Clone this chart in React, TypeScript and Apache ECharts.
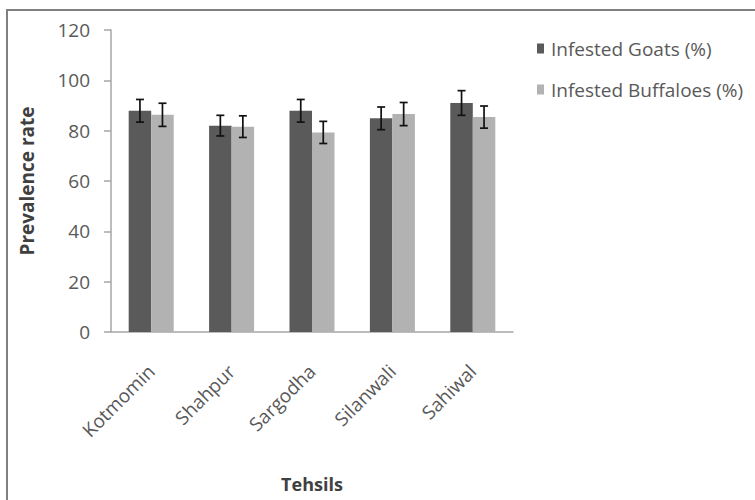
import React, { useEffect, useRef } from "react";
import * as echarts from "echarts";

const categories = ["Kotmomin", "Shahpur", "Sargodha", "Silanwali", "Sahiwal"];
const goats = [87.9, 82.0, 87.9, 84.9, 91.0];
const buffaloes = [86.3, 81.6, 79.3, 86.6, 85.4];
const goatErr = [4.5, 4.1, 4.5, 4.5, 4.9];
const buffErr = [4.6, 4.3, 4.4, 4.6, 4.4];
const seriesNames = ["Infested Goats (%)", "Infested Buffaloes (%)"];

const FONT = "Open Sans";
const GAP = 0.44;

function errData(vals: number[], errs: number[]) {
  return vals.map((v, i) => [i, v, v - errs[i], v + errs[i]]);
}

function makeRenderItem(side: number) {
  return (params: any, api: any) => {
    const i = api.value(0);
    const lo = api.coord([i, api.value(2)]);
    const hi = api.coord([i, api.value(3)]);
    const band = api.size([1, 0])[0];
    const bw = (band * (1 - GAP)) / 2;
    const x = lo[0] + side * bw / 2;
    const cap = 4;
    const style = { stroke: "#111", lineWidth: 1.7 };
    return {
      type: "group",
      children: [
        { type: "line", shape: { x1: x, y1: lo[1], x2: x, y2: hi[1] }, style },
        { type: "line", shape: { x1: x - cap, y1: lo[1], x2: x + cap, y2: lo[1] }, style },
        { type: "line", shape: { x1: x - cap, y1: hi[1], x2: x + cap, y2: hi[1] }, style },
      ],
    };
  };
}

export default function App() {
  const ref = useRef<HTMLDivElement>(null);
  useEffect(() => {
    document.body.style.margin = "0";
    const chart = echarts.init(ref.current!, null, { renderer: "svg" });
    chart.setOption({
      animation: false,
      backgroundColor: "#ffffff",
      textStyle: { fontFamily: FONT },
      grid: { left: 111, right: 242, top: 30, bottom: 168, outerBoundsMode: "none", containLabel: false },
      legend: {
        orient: "vertical",
        left: 532,
        top: 34,
        itemWidth: 7,
        itemHeight: 10,
        itemGap: 22,
        icon: "rect",
        textStyle: { fontFamily: FONT, fontSize: 19, color: "#595959", padding: [0, 0, 0, 2] },
        data: seriesNames,
      },
      graphic: [
        {
          type: "rect",
          shape: { x: 7, y: 10, width: 800, height: 600 },
          style: { fill: "none", stroke: "#808080", lineWidth: 2 },
          silent: true,
        },
      ],
      xAxis: {
        type: "category",
        data: categories,
        name: "Tehsils",
        nameLocation: "middle",
        nameGap: 143,
        nameTextStyle: { fontFamily: FONT, fontSize: 18, fontWeight: "bold", color: "#404040" },
        axisLine: { lineStyle: { color: "#a6a6a6", width: 1.5 } },
        axisTick: { show: false },
        axisLabel: { rotate: 45, margin: 36, fontFamily: FONT, fontSize: 19, color: "#595959", interval: 0 },
      },
      yAxis: {
        type: "value",
        min: 0,
        max: 120,
        interval: 20,
        name: "Prevalence rate",
        nameLocation: "middle",
        nameGap: 75,
        nameTextStyle: { fontFamily: FONT, fontSize: 19, fontWeight: "bold", color: "#404040" },
        axisLine: { show: true, lineStyle: { color: "#a6a6a6", width: 1.5 } },
        axisTick: { show: true, length: 7, lineStyle: { color: "#a6a6a6", width: 1.5 } },
        splitLine: { show: false },
        axisLabel: { margin: 21, fontFamily: FONT, fontSize: 19, color: "#595959" },
      },
      series: [
        {
          name: seriesNames[0],
          type: "bar",
          data: goats,
          barGap: "0%",
          barCategoryGap: "44%",
          itemStyle: { color: "#5a5a5a" },
        },
        {
          name: seriesNames[1],
          type: "bar",
          data: buffaloes,
          barGap: "0%",
          barCategoryGap: "44%",
          itemStyle: { color: "#b2b2b2" },
        },
        {
          type: "custom",
          renderItem: makeRenderItem(-1),
          data: errData(goats, goatErr),
          encode: { x: 0, y: [2, 3] },
          z: 10,
        },
        {
          type: "custom",
          renderItem: makeRenderItem(1),
          data: errData(buffaloes, buffErr),
          encode: { x: 0, y: [2, 3] },
          z: 10,
        },
      ],
    });
    return () => chart.dispose();
  }, []);
  return <div ref={ref} style={{ width: 755, height: 500 }} />;
}
